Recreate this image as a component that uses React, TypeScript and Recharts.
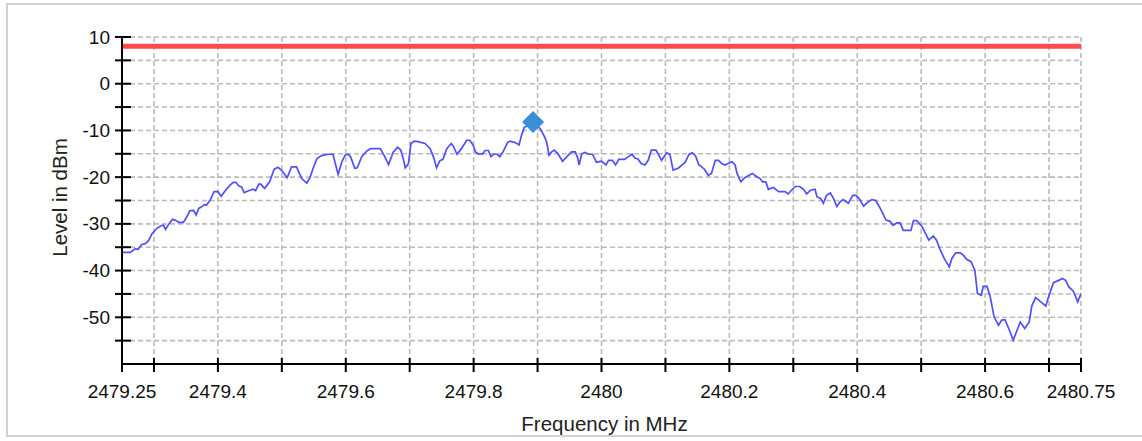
import React from 'react';
import {
  ComposedChart,
  Line,
  Scatter,
  XAxis,
  YAxis,
  CartesianGrid,
  ReferenceLine,
  Label,
} from 'recharts';

// Frequencies (MHz) of the measured trace
const freqs = [
  2479.25, 2479.263, 2479.268, 2479.271, 2479.275, 2479.281, 2479.287, 2479.292, 2479.297, 2479.304,
  2479.311, 2479.315, 2479.318, 2479.324, 2479.329, 2479.333, 2479.339, 2479.346, 2479.351, 2479.356,
  2479.362, 2479.366, 2479.37, 2479.376, 2479.379, 2479.382, 2479.388, 2479.394, 2479.4, 2479.405,
  2479.412, 2479.419, 2479.424, 2479.428, 2479.433, 2479.437, 2479.441, 2479.448, 2479.455, 2479.459,
  2479.464, 2479.467, 2479.473, 2479.481, 2479.488, 2479.494, 2479.5, 2479.508, 2479.51, 2479.515,
  2479.523, 2479.531, 2479.539, 2479.544,
  2479.549, 2479.555, 2479.562, 2479.573, 2479.58, 2479.588, 2479.594, 2479.599, 2479.604, 2479.608,
  2479.614, 2479.618, 2479.625, 2479.633, 2479.639, 2479.654, 2479.661, 2479.667, 2479.674, 2479.681,
  2479.686, 2479.69, 2479.693, 2479.698, 2479.702, 2479.707, 2479.713, 2479.724, 2479.732, 2479.737,
  2479.742, 2479.747, 2479.752, 2479.758, 2479.765, 2479.768, 2479.774, 2479.781, 2479.789, 2479.794,
  2479.799, 2479.803, 2479.807, 2479.814, 2479.818, 2479.823, 2479.827, 2479.831, 2479.837, 2479.841,
  2479.846, 2479.853, 2479.857,
  2479.865, 2479.871, 2479.875, 2479.879, 2479.893, 2479.904, 2479.911, 2479.914, 2479.918, 2479.922,
  2479.926, 2479.932, 2479.939, 2479.946, 2479.953, 2479.959, 2479.963, 2479.965, 2479.969, 2479.974,
  2479.98, 2479.986, 2479.992, 2480.0, 2480.007, 2480.011, 2480.017, 2480.022, 2480.027, 2480.036,
  2480.042, 2480.048, 2480.052, 2480.057, 2480.062, 2480.068, 2480.073, 2480.078, 2480.085, 2480.089,
  2480.094, 2480.102, 2480.107, 2480.112, 2480.12, 2480.131, 2480.137, 2480.142, 2480.147, 2480.152,
  2480.161,
  2480.167, 2480.172, 2480.178, 2480.183, 2480.188, 2480.193, 2480.198, 2480.204, 2480.209, 2480.212,
  2480.218, 2480.224, 2480.231, 2480.236, 2480.243, 2480.248, 2480.252, 2480.257, 2480.261, 2480.269,
  2480.277, 2480.287, 2480.292, 2480.297, 2480.303, 2480.31, 2480.316, 2480.321, 2480.327, 2480.334,
  2480.337, 2480.343, 2480.347, 2480.352, 2480.358, 2480.363, 2480.368, 2480.373, 2480.378, 2480.386,
  2480.393, 2480.398, 2480.403, 2480.41, 2480.417, 2480.423, 2480.429, 2480.436, 2480.445, 2480.451,
  2480.456, 2480.462, 2480.467,
  2480.472, 2480.484, 2480.488, 2480.493, 2480.501, 2480.507, 2480.512, 2480.519, 2480.524, 2480.529,
  2480.536, 2480.544, 2480.548, 2480.554, 2480.561, 2480.566, 2480.571, 2480.578, 2480.584, 2480.588,
  2480.594, 2480.597, 2480.603, 2480.608, 2480.614, 2480.621, 2480.626, 2480.631, 2480.637, 2480.644,
  2480.655, 2480.662, 2480.669, 2480.673, 2480.679, 2480.689, 2480.695, 2480.7, 2480.707, 2480.715,
  2480.721, 2480.726, 2480.731, 2480.738, 2480.745, 2480.75,
];

// Levels (dBm) of the measured trace
const levels = [
  -36.1, -36.1, -35.6, -35.3, -35.5, -34.4, -34.2, -33.5, -32.1, -31.0,
  -30.4, -30.3, -31.2, -29.9, -29.0, -29.2, -29.7, -29.7, -28.6, -27.2,
  -27.1, -28.1, -26.7, -26.2, -25.9, -26.0, -24.9, -23.1, -23.1, -24.1,
  -22.8, -21.7, -21.1, -21.1, -21.9, -22.1, -23.3, -22.9, -22.6, -22.9,
  -21.5, -21.5, -22.4, -21.0, -18.3, -17.9, -18.6, -20.1, -19.6, -17.8,
  -17.8, -20.3, -21.3, -20.1,
  -18.1, -16.0, -15.4, -15.1, -15.1, -19.4, -16.7, -15.3, -15.1, -15.8,
  -18.1, -18.0, -15.6, -14.4, -13.9, -13.9, -15.6, -17.3, -14.7, -13.6,
  -14.2, -16.1, -18.0, -17.1, -12.8, -12.3, -12.4, -12.8, -13.9, -15.6,
  -18.0, -16.5, -16.2, -13.9, -12.8, -13.3, -15.1, -13.9, -12.1, -12.1,
  -13.1, -14.6, -15.0, -15.0, -14.3, -14.3, -15.6, -15.1, -15.1, -15.6,
  -14.6, -12.6, -12.3,
  -12.6, -13.1, -11.0, -9.4, -8.2, -9.6, -11.4, -12.4, -15.3, -14.6,
  -14.2, -15.0, -16.6, -15.6, -14.6, -14.6, -16.0, -17.4, -15.0, -14.7,
  -15.1, -15.1, -16.8, -16.6, -17.4, -16.4, -16.4, -17.4, -16.2, -16.2,
  -15.6, -15.1, -15.9, -16.1, -17.1, -17.4, -16.4, -14.2, -14.2, -15.1,
  -16.4, -14.8, -15.1, -18.5, -18.1, -16.8, -15.1, -14.8, -15.4, -17.3,
  -18.3,
  -19.6, -19.2, -16.4, -16.4, -17.1, -17.4, -17.1, -16.7, -17.4, -19.2,
  -21.0, -20.1, -19.6, -19.2, -19.9, -20.3, -21.0, -21.0, -22.6, -22.2,
  -23.1, -23.1, -23.6, -22.8, -22.0, -22.0, -22.6, -23.6, -22.8, -22.6,
  -24.2, -24.6, -25.6, -23.9, -23.4, -24.6, -26.3, -25.3, -24.8, -25.6,
  -23.9, -23.9, -24.6, -26.2, -25.3, -24.8, -25.0, -26.7, -29.2, -29.4,
  -30.3, -29.8, -29.8,
  -31.4, -31.4, -29.3, -29.3, -30.5, -32.1, -33.5, -32.6, -33.5, -35.3,
  -37.4, -39.2, -37.4, -36.2, -36.2, -36.7, -37.6, -38.1, -39.9, -44.9,
  -45.3, -43.4, -43.4, -45.6, -49.9, -51.7, -50.6, -50.5, -52.4, -54.9,
  -51.0, -52.4, -51.0, -47.6, -45.8, -46.9, -47.6, -45.3, -42.6, -42.1,
  -41.7, -42.1, -43.5, -44.4, -46.7, -44.9,
];

// Peak marker and limit line
const markerFreq = 2479.893;
const markerLevel = -8.2;
const limitLevel = 8;

// Axis ticks and labels
const xTicks = [
  2479.25, 2479.3, 2479.4, 2479.5, 2479.6, 2479.7, 2479.8, 2479.9, 2480.0,
  2480.1, 2480.2, 2480.3, 2480.4, 2480.5, 2480.6, 2480.7, 2480.75,
];
const xTickLabels = ['2479.25', '2479.4', '2479.6', '2479.8', '2480', '2480.2', '2480.4', '2480.6', '2480.75'];
const yTicks = [-55, -50, -45, -40, -35, -30, -25, -20, -15, -10, -5, 0, 5, 10];
const yTickLabels = ['10', '0', '-10', '-20', '-30', '-40', '-50'];

const xTitle = 'Frequency in MHz';
const yTitle = 'Level in dBm';

const traceData = freqs.map((f, i) => ({ f, level: levels[i] }));
const markerData = [{ f: markerFreq, level: markerLevel }];

const FONT = '"Liberation Sans", Arial, sans-serif';
const FS = 19;
const TITLE_FS = 20.5;

const findLabel = (labels: string[], v: number) =>
  labels.find((l) => Math.abs(parseFloat(l) - v) < 1e-6);

const XTick = (props: any) => {
  const { x, y, payload } = props;
  const label = findLabel(xTickLabels, payload.value);
  return (
    <g>
      <line x1={x} x2={x} y1={y - 6} y2={y + 8} stroke="#000" strokeWidth={2} />
      {label && (
        <text x={x} y={y + 27} textAnchor="middle" dominantBaseline="central" fontFamily={FONT} fontSize={FS} fill="#111">
          {label}
        </text>
      )}
    </g>
  );
};

const YTick = (props: any) => {
  const { x, y, payload } = props;
  const label = findLabel(yTickLabels, payload.value);
  return (
    <g>
      <line x1={x - 7} x2={x + 9} y1={y} y2={y} stroke="#000" strokeWidth={2} />
      {label && (
        <text x={x - 12} y={y} textAnchor="end" dominantBaseline="central" fontFamily={FONT} fontSize={FS} fill="#111">
          {label}
        </text>
      )}
    </g>
  );
};

const Diamond = (props: any) => {
  const { cx, cy } = props;
  const r = 11;
  return (
    <polygon
      points={`${cx},${cy - r} ${cx + r},${cy} ${cx},${cy + r} ${cx - r},${cy}`}
      fill="#3a8fd8"
    />
  );
};

export default function App() {
  return (
    <div style={{ position: 'absolute', left: 0, top: 0, width: 1142, height: 441, background: '#fff', overflow: 'hidden' }}>
      <div
        style={{
          position: 'absolute',
          left: 6,
          top: 3,
          width: 1160,
          height: 434,
          border: '2px solid #d2d2d2',
          boxSizing: 'border-box',
        }}
      />
      <div style={{ position: 'absolute', left: 0, top: 0 }}>
        <ComposedChart
          width={1142}
          height={441}
          data={traceData}
          margin={{ top: 37, right: 61, bottom: 47, left: 62 }}
        >
          <CartesianGrid stroke="#bbbbbb" strokeDasharray="5 3" strokeWidth={1.6} />
          <XAxis
            dataKey="f"
            type="number"
            domain={[2479.25, 2480.75]}
            ticks={xTicks}
            interval={0}
            height={30}
            tickSize={0}
            tickMargin={0}
            tickLine={false}
            tick={<XTick />}
            axisLine={{ stroke: '#000', strokeWidth: 2 }}
            allowDataOverflow
          >
            <Label
              content={(p: any) => {
                const vb = p.viewBox;
                return (
                  <text
                    x={vb.x + vb.width / 2 + 3}
                    y={vb.y + 59}
                    textAnchor="middle"
                    dominantBaseline="central"
                    fontFamily={FONT}
                    fontSize={TITLE_FS}
                    fill="#222"
                  >
                    {xTitle}
                  </text>
                );
              }}
            />
          </XAxis>
          <YAxis
            type="number"
            domain={[-60, 10]}
            ticks={yTicks}
            interval={0}
            width={60}
            tickSize={0}
            tickMargin={0}
            tickLine={false}
            tick={<YTick />}
            axisLine={{ stroke: '#000', strokeWidth: 2 }}
            allowDataOverflow
          >
            <Label
              content={(p: any) => {
                const vb = p.viewBox;
                const cx = vb.x - 3;
                const cy = vb.y + vb.height / 2 - 3;
                return (
                  <text
                    x={cx}
                    y={cy}
                    transform={`rotate(-90 ${cx} ${cy})`}
                    textAnchor="middle"
                    dominantBaseline="central"
                    fontFamily={FONT}
                    fontSize={TITLE_FS}
                    fill="#222"
                  >
                    {yTitle}
                  </text>
                );
              }}
            />
          </YAxis>
          <ReferenceLine y={limitLevel} stroke="#ff4b4b" strokeWidth={5} />
          <Line
            dataKey="level"
            type="linear"
            stroke="#5050f8"
            strokeWidth={1.7}
            dot={false}
            activeDot={false}
            isAnimationActive={false}
          />
          <Scatter data={markerData} dataKey="level" shape={<Diamond />} isAnimationActive={false} />
        </ComposedChart>
      </div>
    </div>
  );
}
